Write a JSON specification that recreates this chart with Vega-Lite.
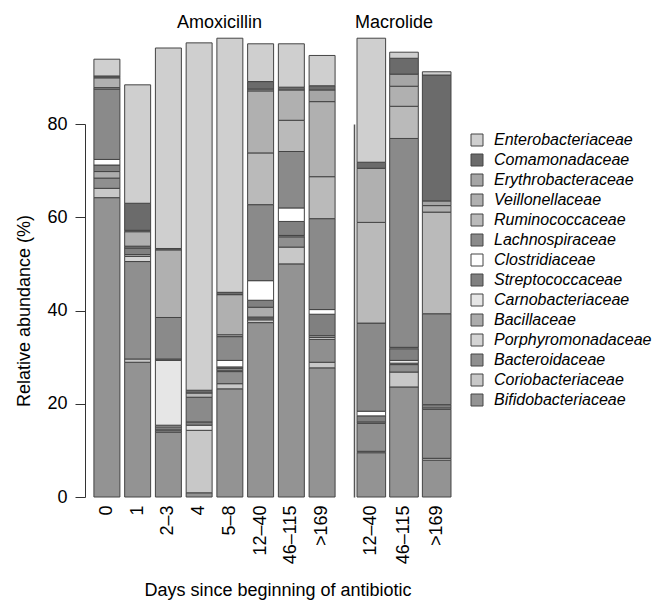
{
  "$schema": "https://vega.github.io/schema/vega-lite/v6.json",
  "padding": {"left": 15, "top": 13, "right": 0, "bottom": 0},
  "config": {
    "font": "Liberation Sans",
    "view": {"stroke": null},
    "axis": {"grid": false, "labelColor": "#000000", "titleColor": "#000000", "labelFont": "Liberation Sans", "titleFont": "Liberation Sans"},
    "concat": {"spacing": 10}
  },
  "title": {"text": "Days since beginning of antibiotic", "orient": "bottom", "anchor": "middle", "fontSize": 18, "fontWeight": "normal", "color": "#000000", "dx": -56, "offset": 18},
  "datasets": {
    "ab": [
      {"drug": "Amoxicillin", "day": "0", "family": "Bifidobacteriaceae", "value": 64.2},
      {"drug": "Amoxicillin", "day": "0", "family": "Coriobacteriaceae", "value": 2.0},
      {"drug": "Amoxicillin", "day": "0", "family": "Bacteroidaceae", "value": 2.2},
      {"drug": "Amoxicillin", "day": "0", "family": "Bacillaceae", "value": 1.4},
      {"drug": "Amoxicillin", "day": "0", "family": "Streptococcaceae", "value": 1.4},
      {"drug": "Amoxicillin", "day": "0", "family": "Clostridiaceae", "value": 1.2},
      {"drug": "Amoxicillin", "day": "0", "family": "Lachnospiraceae", "value": 15.1},
      {"drug": "Amoxicillin", "day": "0", "family": "Ruminococcaceae", "value": 0.3},
      {"drug": "Amoxicillin", "day": "0", "family": "Veillonellaceae", "value": 2.1},
      {"drug": "Amoxicillin", "day": "0", "family": "Comamonadaceae", "value": 0.4},
      {"drug": "Amoxicillin", "day": "0", "family": "Enterobacteriaceae", "value": 3.6},

      {"drug": "Amoxicillin", "day": "1", "family": "Bifidobacteriaceae", "value": 28.9},
      {"drug": "Amoxicillin", "day": "1", "family": "Coriobacteriaceae", "value": 0.7},
      {"drug": "Amoxicillin", "day": "1", "family": "Bacteroidaceae", "value": 20.9},
      {"drug": "Amoxicillin", "day": "1", "family": "Porphyromonadaceae", "value": 1.1},
      {"drug": "Amoxicillin", "day": "1", "family": "Bacillaceae", "value": 0.4},
      {"drug": "Amoxicillin", "day": "1", "family": "Streptococcaceae", "value": 1.4},
      {"drug": "Amoxicillin", "day": "1", "family": "Lachnospiraceae", "value": 0.4},
      {"drug": "Amoxicillin", "day": "1", "family": "Veillonellaceae", "value": 3.1},
      {"drug": "Amoxicillin", "day": "1", "family": "Erythrobacteraceae", "value": 0.3},
      {"drug": "Amoxicillin", "day": "1", "family": "Comamonadaceae", "value": 5.8},
      {"drug": "Amoxicillin", "day": "1", "family": "Enterobacteriaceae", "value": 25.4},

      {"drug": "Amoxicillin", "day": "2–3", "family": "Bifidobacteriaceae", "value": 13.9},
      {"drug": "Amoxicillin", "day": "2–3", "family": "Coriobacteriaceae", "value": 0.3},
      {"drug": "Amoxicillin", "day": "2–3", "family": "Bacteroidaceae", "value": 0.4},
      {"drug": "Amoxicillin", "day": "2–3", "family": "Porphyromonadaceae", "value": 0.4},
      {"drug": "Amoxicillin", "day": "2–3", "family": "Bacillaceae", "value": 0.4},
      {"drug": "Amoxicillin", "day": "2–3", "family": "Carnobacteriaceae", "value": 13.9},
      {"drug": "Amoxicillin", "day": "2–3", "family": "Streptococcaceae", "value": 0.3},
      {"drug": "Amoxicillin", "day": "2–3", "family": "Lachnospiraceae", "value": 8.9},
      {"drug": "Amoxicillin", "day": "2–3", "family": "Veillonellaceae", "value": 14.5},
      {"drug": "Amoxicillin", "day": "2–3", "family": "Comamonadaceae", "value": 0.3},
      {"drug": "Amoxicillin", "day": "2–3", "family": "Enterobacteriaceae", "value": 43.0},

      {"drug": "Amoxicillin", "day": "4", "family": "Bifidobacteriaceae", "value": 0.9},
      {"drug": "Amoxicillin", "day": "4", "family": "Coriobacteriaceae", "value": 13.4},
      {"drug": "Amoxicillin", "day": "4", "family": "Carnobacteriaceae", "value": 1.1},
      {"drug": "Amoxicillin", "day": "4", "family": "Streptococcaceae", "value": 0.7},
      {"drug": "Amoxicillin", "day": "4", "family": "Lachnospiraceae", "value": 5.3},
      {"drug": "Amoxicillin", "day": "4", "family": "Ruminococcaceae", "value": 0.9},
      {"drug": "Amoxicillin", "day": "4", "family": "Comamonadaceae", "value": 0.6},
      {"drug": "Amoxicillin", "day": "4", "family": "Enterobacteriaceae", "value": 74.5},

      {"drug": "Amoxicillin", "day": "5–8", "family": "Bifidobacteriaceae", "value": 23.2},
      {"drug": "Amoxicillin", "day": "5–8", "family": "Coriobacteriaceae", "value": 1.1},
      {"drug": "Amoxicillin", "day": "5–8", "family": "Bacteroidaceae", "value": 2.6},
      {"drug": "Amoxicillin", "day": "5–8", "family": "Porphyromonadaceae", "value": 0.3},
      {"drug": "Amoxicillin", "day": "5–8", "family": "Bacillaceae", "value": 0.4},
      {"drug": "Amoxicillin", "day": "5–8", "family": "Streptococcaceae", "value": 0.3},
      {"drug": "Amoxicillin", "day": "5–8", "family": "Clostridiaceae", "value": 1.4},
      {"drug": "Amoxicillin", "day": "5–8", "family": "Lachnospiraceae", "value": 5.1},
      {"drug": "Amoxicillin", "day": "5–8", "family": "Ruminococcaceae", "value": 0.4},
      {"drug": "Amoxicillin", "day": "5–8", "family": "Veillonellaceae", "value": 8.6},
      {"drug": "Amoxicillin", "day": "5–8", "family": "Comamonadaceae", "value": 0.5},
      {"drug": "Amoxicillin", "day": "5–8", "family": "Enterobacteriaceae", "value": 54.5},

      {"drug": "Amoxicillin", "day": "12–40", "family": "Bifidobacteriaceae", "value": 37.4},
      {"drug": "Amoxicillin", "day": "12–40", "family": "Coriobacteriaceae", "value": 0.6},
      {"drug": "Amoxicillin", "day": "12–40", "family": "Bacteroidaceae", "value": 0.4},
      {"drug": "Amoxicillin", "day": "12–40", "family": "Porphyromonadaceae", "value": 0.2},
      {"drug": "Amoxicillin", "day": "12–40", "family": "Bacillaceae", "value": 2.1},
      {"drug": "Amoxicillin", "day": "12–40", "family": "Streptococcaceae", "value": 1.5},
      {"drug": "Amoxicillin", "day": "12–40", "family": "Clostridiaceae", "value": 4.2},
      {"drug": "Amoxicillin", "day": "12–40", "family": "Lachnospiraceae", "value": 16.3},
      {"drug": "Amoxicillin", "day": "12–40", "family": "Ruminococcaceae", "value": 11.1},
      {"drug": "Amoxicillin", "day": "12–40", "family": "Veillonellaceae", "value": 13.3},
      {"drug": "Amoxicillin", "day": "12–40", "family": "Erythrobacteraceae", "value": 0.4},
      {"drug": "Amoxicillin", "day": "12–40", "family": "Comamonadaceae", "value": 1.6},
      {"drug": "Amoxicillin", "day": "12–40", "family": "Enterobacteriaceae", "value": 8.1},

      {"drug": "Amoxicillin", "day": "46–115", "family": "Bifidobacteriaceae", "value": 50.0},
      {"drug": "Amoxicillin", "day": "46–115", "family": "Coriobacteriaceae", "value": 3.6},
      {"drug": "Amoxicillin", "day": "46–115", "family": "Bacteroidaceae", "value": 2.2},
      {"drug": "Amoxicillin", "day": "46–115", "family": "Bacillaceae", "value": 0.3},
      {"drug": "Amoxicillin", "day": "46–115", "family": "Streptococcaceae", "value": 3.0},
      {"drug": "Amoxicillin", "day": "46–115", "family": "Clostridiaceae", "value": 2.9},
      {"drug": "Amoxicillin", "day": "46–115", "family": "Lachnospiraceae", "value": 12.1},
      {"drug": "Amoxicillin", "day": "46–115", "family": "Ruminococcaceae", "value": 6.7},
      {"drug": "Amoxicillin", "day": "46–115", "family": "Veillonellaceae", "value": 6.5},
      {"drug": "Amoxicillin", "day": "46–115", "family": "Comamonadaceae", "value": 0.6},
      {"drug": "Amoxicillin", "day": "46–115", "family": "Enterobacteriaceae", "value": 9.3},

      {"drug": "Amoxicillin", "day": ">169", "family": "Bifidobacteriaceae", "value": 27.7},
      {"drug": "Amoxicillin", "day": ">169", "family": "Coriobacteriaceae", "value": 1.2},
      {"drug": "Amoxicillin", "day": ">169", "family": "Bacteroidaceae", "value": 4.9},
      {"drug": "Amoxicillin", "day": ">169", "family": "Porphyromonadaceae", "value": 0.4},
      {"drug": "Amoxicillin", "day": ">169", "family": "Bacillaceae", "value": 0.4},
      {"drug": "Amoxicillin", "day": ">169", "family": "Streptococcaceae", "value": 4.6},
      {"drug": "Amoxicillin", "day": ">169", "family": "Clostridiaceae", "value": 1.0},
      {"drug": "Amoxicillin", "day": ">169", "family": "Lachnospiraceae", "value": 19.5},
      {"drug": "Amoxicillin", "day": ">169", "family": "Ruminococcaceae", "value": 9.0},
      {"drug": "Amoxicillin", "day": ">169", "family": "Veillonellaceae", "value": 16.1},
      {"drug": "Amoxicillin", "day": ">169", "family": "Erythrobacteraceae", "value": 2.5},
      {"drug": "Amoxicillin", "day": ">169", "family": "Comamonadaceae", "value": 0.9},
      {"drug": "Amoxicillin", "day": ">169", "family": "Enterobacteriaceae", "value": 6.5},

      {"drug": "Macrolide", "day": "12–40", "family": "Bifidobacteriaceae", "value": 9.5},
      {"drug": "Macrolide", "day": "12–40", "family": "Coriobacteriaceae", "value": 0.3},
      {"drug": "Macrolide", "day": "12–40", "family": "Bacteroidaceae", "value": 6.0},
      {"drug": "Macrolide", "day": "12–40", "family": "Bacillaceae", "value": 0.3},
      {"drug": "Macrolide", "day": "12–40", "family": "Streptococcaceae", "value": 1.3},
      {"drug": "Macrolide", "day": "12–40", "family": "Clostridiaceae", "value": 1.0},
      {"drug": "Macrolide", "day": "12–40", "family": "Lachnospiraceae", "value": 18.9},
      {"drug": "Macrolide", "day": "12–40", "family": "Ruminococcaceae", "value": 21.6},
      {"drug": "Macrolide", "day": "12–40", "family": "Veillonellaceae", "value": 11.6},
      {"drug": "Macrolide", "day": "12–40", "family": "Comamonadaceae", "value": 1.3},
      {"drug": "Macrolide", "day": "12–40", "family": "Enterobacteriaceae", "value": 26.6},

      {"drug": "Macrolide", "day": "46–115", "family": "Bifidobacteriaceae", "value": 23.6},
      {"drug": "Macrolide", "day": "46–115", "family": "Coriobacteriaceae", "value": 3.2},
      {"drug": "Macrolide", "day": "46–115", "family": "Bacteroidaceae", "value": 1.6},
      {"drug": "Macrolide", "day": "46–115", "family": "Bacillaceae", "value": 0.3},
      {"drug": "Macrolide", "day": "46–115", "family": "Carnobacteriaceae", "value": 0.6},
      {"drug": "Macrolide", "day": "46–115", "family": "Streptococcaceae", "value": 2.5},
      {"drug": "Macrolide", "day": "46–115", "family": "Clostridiaceae", "value": 0.3},
      {"drug": "Macrolide", "day": "46–115", "family": "Lachnospiraceae", "value": 44.8},
      {"drug": "Macrolide", "day": "46–115", "family": "Ruminococcaceae", "value": 6.9},
      {"drug": "Macrolide", "day": "46–115", "family": "Veillonellaceae", "value": 4.3},
      {"drug": "Macrolide", "day": "46–115", "family": "Erythrobacteraceae", "value": 2.6},
      {"drug": "Macrolide", "day": "46–115", "family": "Comamonadaceae", "value": 3.4},
      {"drug": "Macrolide", "day": "46–115", "family": "Enterobacteriaceae", "value": 1.3},

      {"drug": "Macrolide", "day": ">169", "family": "Bifidobacteriaceae", "value": 7.9},
      {"drug": "Macrolide", "day": ">169", "family": "Coriobacteriaceae", "value": 0.4},
      {"drug": "Macrolide", "day": ">169", "family": "Bacteroidaceae", "value": 10.5},
      {"drug": "Macrolide", "day": ">169", "family": "Porphyromonadaceae", "value": 0.3},
      {"drug": "Macrolide", "day": ">169", "family": "Streptococcaceae", "value": 0.7},
      {"drug": "Macrolide", "day": ">169", "family": "Lachnospiraceae", "value": 19.5},
      {"drug": "Macrolide", "day": ">169", "family": "Ruminococcaceae", "value": 21.8},
      {"drug": "Macrolide", "day": ">169", "family": "Veillonellaceae", "value": 1.4},
      {"drug": "Macrolide", "day": ">169", "family": "Erythrobacteraceae", "value": 1.0},
      {"drug": "Macrolide", "day": ">169", "family": "Comamonadaceae", "value": 27.0},
      {"drug": "Macrolide", "day": ">169", "family": "Enterobacteriaceae", "value": 0.7}
    ]
  },
  "hconcat": [
    {
      "width": 259,
      "height": 373,
      "title": {"text": "Amoxicillin", "fontSize": 18, "fontWeight": "normal", "color": "#000000", "frame": "group", "anchor": "middle", "offset": 6, "dx": 5},
      "data": {"name": "ab"},
      "transform": [
        {"filter": "datum.drug === 'Amoxicillin'"},
        {"lookup": "family", "from": {"data": {"values": [
          {"family": "Bifidobacteriaceae", "k": 1}, {"family": "Coriobacteriaceae", "k": 2}, {"family": "Bacteroidaceae", "k": 3},
          {"family": "Porphyromonadaceae", "k": 4}, {"family": "Bacillaceae", "k": 5}, {"family": "Carnobacteriaceae", "k": 6},
          {"family": "Streptococcaceae", "k": 7}, {"family": "Clostridiaceae", "k": 8}, {"family": "Lachnospiraceae", "k": 9},
          {"family": "Ruminococcaceae", "k": 10}, {"family": "Veillonellaceae", "k": 11}, {"family": "Erythrobacteraceae", "k": 12},
          {"family": "Comamonadaceae", "k": 13}, {"family": "Enterobacteriaceae", "k": 14}]}, "key": "family", "fields": ["k"]}}
      ],
      "mark": {"type": "bar", "stroke": "#444444", "strokeWidth": 1},
      "encoding": {
        "x": {"field": "day", "type": "nominal",
          "scale": {"domain": ["0", "1", "2–3", "4", "5–8", "12–40", "46–115", ">169"], "paddingInner": 0.155, "paddingOuter": 0.29},
          "axis": {"title": null, "labelAngle": -90, "labelFontSize": 18, "labelPadding": 8, "ticks": false, "domain": false}},
        "y": {"field": "value", "type": "quantitative", "stack": "zero",
          "scale": {"domain": [0, 80], "nice": false},
          "axis": {"title": "Relative abundance (%)", "titleFontSize": 18, "titleFontWeight": "normal", "titlePadding": 13,
            "values": [0, 20, 40, 60, 80], "labelFontSize": 18, "labelPadding": 8, "tickSize": 10, "tickWidth": 1, "tickColor": "#333333",
            "domain": true, "domainWidth": 1, "domainColor": "#333333"}},
        "color": {"field": "family", "type": "nominal",
          "scale": {"domain": ["Enterobacteriaceae", "Comamonadaceae", "Erythrobacteraceae", "Veillonellaceae", "Ruminococcaceae", "Lachnospiraceae", "Clostridiaceae", "Streptococcaceae", "Carnobacteriaceae", "Bacillaceae", "Porphyromonadaceae", "Bacteroidaceae", "Coriobacteriaceae", "Bifidobacteriaceae"],
            "range": ["#cfcfcf", "#6b6b6b", "#a6a6a6", "#b0b0b0", "#bababa", "#8a8a8a", "#ffffff", "#808080", "#e6e6e6", "#acacac", "#d4d4d4", "#8f8f8f", "#c8c8c8", "#939393"]},
          "legend": {"title": null, "orient": "none", "legendX": 384, "legendY": 8, "symbolType": "square", "symbolSize": 144,
            "symbolStrokeColor": "#444444", "symbolStrokeWidth": 1, "labelFontSize": 16, "labelFontStyle": "italic", "labelColor": "#000000",
            "labelOffset": 9, "rowPadding": 4, "padding": 0}},
        "order": {"field": "k", "type": "quantitative", "sort": "ascending"}
      }
    },
    {
      "width": 100,
      "height": 373,
      "title": {"text": "Macrolide", "fontSize": 18, "fontWeight": "normal", "color": "#000000", "frame": "group", "anchor": "middle", "offset": 6, "dx": -10},
      "data": {"name": "ab"},
      "transform": [
        {"filter": "datum.drug === 'Macrolide'"},
        {"lookup": "family", "from": {"data": {"values": [
          {"family": "Bifidobacteriaceae", "k": 1}, {"family": "Coriobacteriaceae", "k": 2}, {"family": "Bacteroidaceae", "k": 3},
          {"family": "Porphyromonadaceae", "k": 4}, {"family": "Bacillaceae", "k": 5}, {"family": "Carnobacteriaceae", "k": 6},
          {"family": "Streptococcaceae", "k": 7}, {"family": "Clostridiaceae", "k": 8}, {"family": "Lachnospiraceae", "k": 9},
          {"family": "Ruminococcaceae", "k": 10}, {"family": "Veillonellaceae", "k": 11}, {"family": "Erythrobacteraceae", "k": 12},
          {"family": "Comamonadaceae", "k": 13}, {"family": "Enterobacteriaceae", "k": 14}]}, "key": "family", "fields": ["k"]}}
      ],
      "mark": {"type": "bar", "stroke": "#444444", "strokeWidth": 1},
      "encoding": {
        "x": {"field": "day", "type": "nominal",
          "scale": {"domain": ["12–40", "46–115", ">169"], "paddingInner": 0.125, "paddingOuter": 0.092},
          "axis": {"title": null, "labelAngle": -90, "labelFontSize": 18, "labelPadding": 8, "ticks": false, "domain": false}},
        "y": {"field": "value", "type": "quantitative", "stack": "zero",
          "scale": {"domain": [0, 80], "nice": false},
          "axis": {"title": null, "labels": false, "ticks": false, "domain": true, "domainColor": "#555555", "domainWidth": 1.5}},
        "color": {"field": "family", "type": "nominal", "legend": null},
        "order": {"field": "k", "type": "quantitative", "sort": "ascending"}
      }
    }
  ],
  "resolve": {"scale": {"x": "independent", "y": "independent", "color": "shared"}}
}
